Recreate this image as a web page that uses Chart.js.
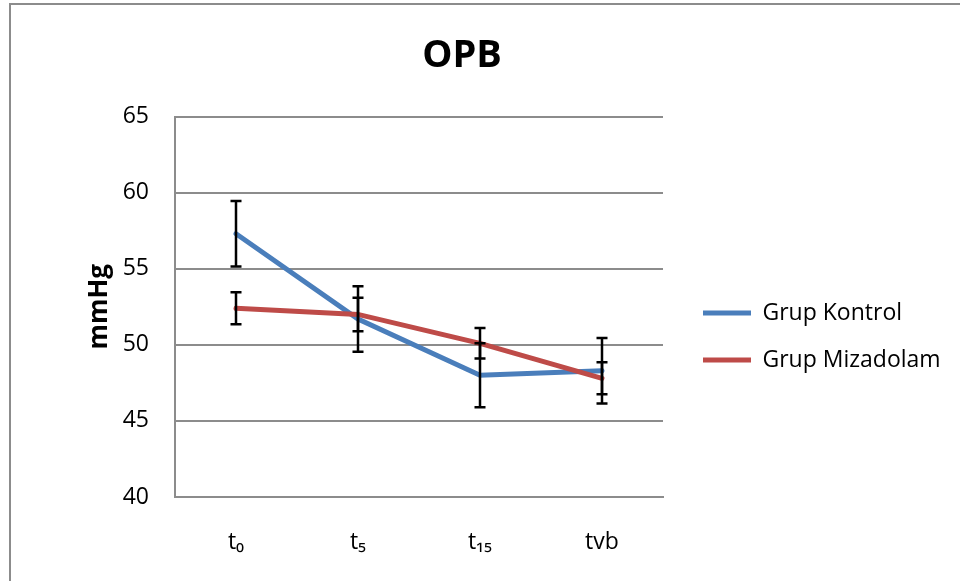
<!DOCTYPE html>
<html>
<head>
<meta charset="utf-8">
<script src="https://cdn.jsdelivr.net/npm/chart.js@4.4.1/dist/chart.umd.min.js"></script>
<style>
  html, body { margin: 0; padding: 0; background: #fff; overflow: hidden; }
  #wrap { position: relative; width: 960px; height: 581px; }
  #frame { position: absolute; left: 9px; top: 3px; width: 1000px; height: 700px;
           border-left: 2px solid #8c8c8c; border-top: 2px solid #8c8c8c; }
  canvas { position: absolute; left: 0; top: 0; }
</style>
</head>
<body>
<div id="wrap">
  <div id="frame"></div>
  <canvas id="myChart" width="960" height="581"></canvas>
</div>
<script>
// kategoriler (zaman noktaları)
var labels = ['t\u2080', 't\u2085', 't\u2081\u2085', 'tvb'];

// ortalama değerler, mmHg
var kontrol = [57.3, 51.7, 48.0, 48.3];
var mizadolam = [52.4, 52.0, 50.1, 47.8];

// hata çubukları (±)
var kontrolErr = [2.15, 2.15, 2.1, 2.15];
var mizadolamErr = [1.05, 1.1, 1.0, 1.05];

// y ekseni
var yMin = 40, yMax = 65, yStep = 5;

var FONT = "'Open Sans', 'Noto Sans', sans-serif";
var GRID = '#8c8c8c';

// hata çubuklarını çizen eklenti
var errorBars = {
  id: 'errorBars',
  afterDatasetsDraw: function(chart) {
    var ctx = chart.ctx;
    var yScale = chart.scales.y;
    ctx.save();
    ctx.strokeStyle = '#000';
    ctx.lineWidth = 2.5;
    chart.data.datasets.forEach(function(ds, di) {
      var meta = chart.getDatasetMeta(di);
      ds.errors.forEach(function(e, i) {
        var x = meta.data[i].x;
        var top = yScale.getPixelForValue(ds.data[i] + e);
        var bot = yScale.getPixelForValue(ds.data[i] - e);
        ctx.beginPath();
        ctx.moveTo(x, top); ctx.lineTo(x, bot);
        ctx.moveTo(x - 5.5, top); ctx.lineTo(x + 5.5, top);
        ctx.moveTo(x - 5.5, bot); ctx.lineTo(x + 5.5, bot);
        ctx.stroke();
      });
    });
    ctx.restore();
  }
};

// başlık ve açıklamayı Excel'deki yerine kaydır
var boxShift = {
  id: 'boxShift',
  afterLayout: function(chart) {
    chart.titleBlock.left = 0;
    chart.titleBlock.right = 924;
    var lg = chart.legend;
    lg.left += 16;
    lg.right = 960;   // uzun metin kırpılmasın
    lg.top += 46; lg.bottom += 46;
  }
};

var ctx = document.getElementById('myChart').getContext('2d');
var myChart = new Chart(ctx, {
  type: 'line',
  data: {
    labels: labels,
    datasets: [
      {
        label: 'Grup Kontrol',
        data: kontrol,
        errors: kontrolErr,
        borderColor: '#4a7ebb',
        backgroundColor: '#4a7ebb',
        borderWidth: 5,
        pointRadius: 0,
        tension: 0,
        borderCapStyle: 'round',
        order: 1
      },
      {
        label: 'Grup Mizadolam',
        data: mizadolam,
        errors: mizadolamErr,
        borderColor: '#be4b48',
        backgroundColor: '#be4b48',
        borderWidth: 5,
        pointRadius: 0,
        tension: 0,
        borderCapStyle: 'round',
        order: 0
      }
    ]
  },
  options: {
    responsive: false,
    animation: false,
    layout: { padding: { left: 0, right: 76, top: 0, bottom: 0 } },
    plugins: {
      tooltip: { enabled: false },
      title: {
        display: true,
        text: 'OPB',
        color: '#000',
        font: { family: FONT, size: 38, weight: 'bold' },
        padding: { top: 33, bottom: 38 }
      },
      legend: {
        position: 'right',
        labels: {
          color: '#000',
          font: { family: FONT, size: 23 },
          boxWidth: 48,
          boxHeight: 5,
          padding: 24,
          sort: function(a, b) { return a.datasetIndex - b.datasetIndex; },
          generateLabels: function(chart) {
            var items = Chart.defaults.plugins.legend.labels.generateLabels(chart);
            items.forEach(function(it) { it.lineWidth = 0; });
            return items;
          }
        }
      }
    },
    scales: {
      x: {
        offset: true,
        grid: { display: false, offset: true },
        border: { display: true, color: GRID, width: 2 },
        ticks: { color: '#000', font: { family: FONT, size: 23 }, padding: 24 },
        afterFit: function(scale) { scale.height = 84; }
      },
      y: {
        min: yMin,
        max: yMax,
        ticks: { stepSize: yStep, color: '#000', font: { family: FONT, size: 23 }, padding: 26 },
        grid: { color: GRID, lineWidth: 2, drawTicks: false },
        border: { display: true, color: GRID, width: 2 },
        title: {
          display: true,
          text: 'mmHg',
          color: '#000',
          font: { family: FONT, size: 26, weight: 'bold' },
          padding: { top: 84, bottom: 0 }
        },
        afterFit: function(scale) { scale.width = 175; }
      }
    }
  },
  plugins: [errorBars, boxShift]
});
</script>
</body>
</html>
